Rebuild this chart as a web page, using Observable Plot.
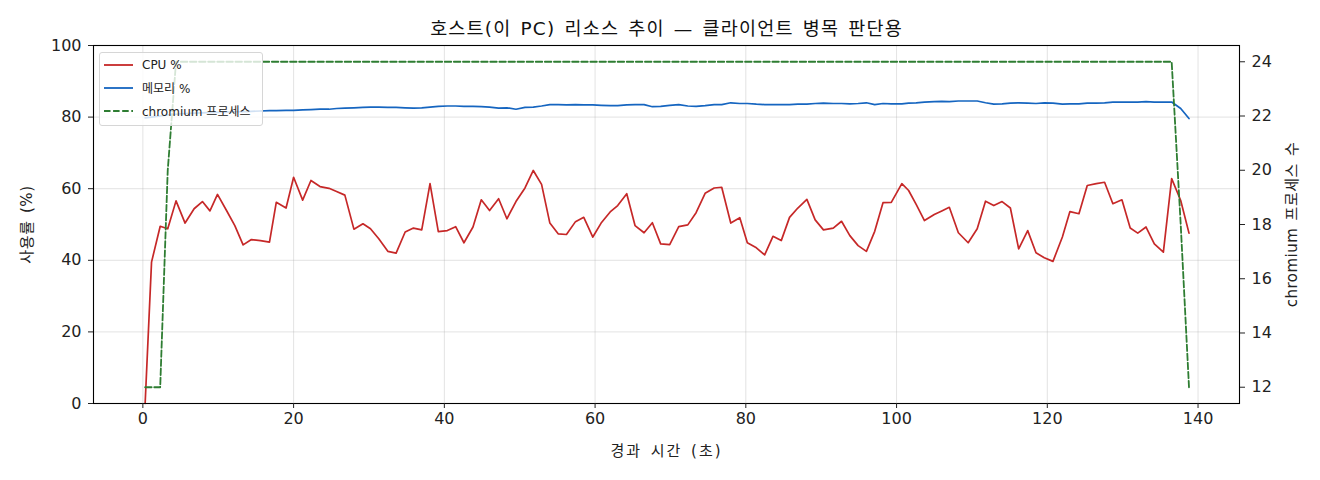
<!DOCTYPE html>
<html>
<head>
<meta charset="utf-8">
<script src="https://cdn.jsdelivr.net/npm/d3@7"></script>
<script src="https://cdn.jsdelivr.net/npm/@observablehq/plot@0.6"></script>
<style>
  html, body { margin: 0; padding: 0; background: #fff; }
  #wrap { position: relative; width: 1320px; height: 480px; font-family: "DejaVu Sans", "Noto Sans CJK KR", sans-serif; }
  #legend { position: absolute; left: 99px; top: 52px; width: 162px; height: 72px; padding: 0;
    border: 1px solid #d6d6d6; border-radius: 3px; background: rgba(255,255,255,0.8); font-size: 12px; color: #222; }
  .row { display: flex; align-items: center; height: 23.2px; }
  .row svg { margin-left: 4px; margin-right: 9px; }
</style>
</head>
<body>
<div id="wrap"></div>
<script>
const title = "호스트(이 PC) 리소스 추이 — 클라이언트 병목 판단용";
const xLabel = "경과 시간 (초)";
const yLabel = "사용률 (%)";
const y2Label = "chromium 프로세스 수";
const seriesNames = ["CPU %", "메모리 %", "chromium 프로세스"];
const seriesColors = ["#c62828", "#1565c0", "#2e7d32"];

const t = [0.3,1.15,2.3,3.3,4.4,5.6,6.8,7.9,8.9,9.9,11.1,12.2,13.3,14.4,15.6,16.8,17.7,19.0,20.0,21.2,22.3,23.5,24.7,25.7,26.8,28.0,29.2,30.2,31.3,32.5,33.6,34.8,35.9,37.0,38.1,39.2,40.4,41.5,42.6,43.8,44.9,46.0,47.2,48.3,49.5,50.7,51.8,52.9,54.0,55.1,56.2,57.4,58.5,59.7,60.8,62.0,63.0,64.2,65.3,66.5,67.6,68.7,69.9,71.1,72.3,73.4,74.6,75.8,76.8,78.0,79.2,80.2,81.4,82.5,83.6,84.7,85.8,86.9,88.1,89.2,90.3,91.6,92.7,93.8,94.9,96.0,97.1,98.2,99.3,100.7,101.6,102.6,103.7,105.0,106.0,107.0,108.2,109.5,110.7,111.8,112.9,114.0,115.1,116.2,117.4,118.5,119.6,120.75,122.0,123.0,124.2,125.3,126.5,127.6,128.7,129.9,131.0,132.0,133.1,134.2,135.4,136.5,137.7,138.8];

const cpu = [0,39.5,49.5,48.8,56.6,50.4,54.4,56.4,53.8,58.4,53.9,49.7,44.3,45.8,45.5,45.1,56.2,54.6,63.2,56.8,62.3,60.6,60.1,59.2,58.2,48.7,50.2,48.8,46.0,42.5,42.0,47.9,49.0,48.5,61.4,48.0,48.3,49.4,44.9,49.3,56.9,53.9,57.2,51.6,56.4,60.2,65.1,61.2,50.4,47.4,47.2,50.8,52.0,46.5,50.4,53.5,55.3,58.6,49.7,47.7,50.5,44.6,44.4,49.4,49.9,53.3,58.7,60.2,60.4,50.4,51.9,44.9,43.5,41.5,46.7,45.5,52.0,54.6,57.0,51.3,48.5,49.0,50.9,46.9,44.1,42.5,48.1,56.1,56.2,61.4,59.5,55.6,51.1,52.8,53.8,54.8,47.7,44.9,48.8,56.5,55.3,56.4,54.6,43.2,48.3,42.1,40.7,39.7,46.5,53.6,53.0,60.9,61.4,61.8,55.8,56.9,49.0,47.6,49.3,44.6,42.3,62.8,56.7,47.6];

const mem = [79.8,80.0,80.3,80.6,80.8,81.0,81.1,81.2,81.3,81.3,81.4,81.5,81.5,81.6,81.7,81.8,81.8,81.9,81.9,82.0,82.1,82.2,82.2,82.4,82.5,82.6,82.7,82.8,82.8,82.7,82.7,82.6,82.5,82.6,82.8,83.0,83.1,83.1,83.0,83.0,82.9,82.8,82.5,82.6,82.2,82.7,82.8,83.1,83.5,83.5,83.4,83.5,83.4,83.4,83.3,83.2,83.2,83.4,83.5,83.5,82.9,83.0,83.3,83.5,83.1,83.0,83.2,83.5,83.5,84.0,83.8,83.8,83.6,83.5,83.5,83.5,83.5,83.6,83.6,83.8,83.9,83.8,83.8,83.7,83.8,84.0,83.5,83.8,83.7,83.7,83.9,84.0,84.2,84.3,84.4,84.3,84.5,84.5,84.5,84.0,83.6,83.7,83.9,84.0,83.9,83.8,84.0,83.9,83.6,83.7,83.7,83.9,83.9,84.0,84.2,84.2,84.2,84.2,84.3,84.2,84.2,84.2,82.4,79.6];

const proc = [12,12,12,20,24,24,24,24,24,24,24,24,24,24,24,24,24,24,24,24,24,24,24,24,24,24,24,24,24,24,24,24,24,24,24,24,24,24,24,24,24,24,24,24,24,24,24,24,24,24,24,24,24,24,24,24,24,24,24,24,24,24,24,24,24,24,24,24,24,24,24,24,24,24,24,24,24,24,24,24,24,24,24,24,24,24,24,24,24,24,24,24,24,24,24,24,24,24,24,24,24,24,24,24,24,24,24,24,24,24,24,24,24,24,24,24,24,24,24,24,24,24,18,12];

const xTicks = [0,20,40,60,80,100,120,140];
const yTicks = [0,20,40,60,80,100];
const y2Ticks = [12,14,16,18,20,22,24];

// secondary axis mapping (process count domain -> primary 0..100 space)
const y2Domain = [11.4, 24.6];
const toY = v => (v - y2Domain[0]) / (y2Domain[1] - y2Domain[0]) * 100;
const fromY = v => v / 100 * (y2Domain[1] - y2Domain[0]) + y2Domain[0];

const rows = t.map((d, i) => ({t: d, cpu: cpu[i], mem: mem[i], proc: toY(proc[i])}));

const font = '"DejaVu Sans", "Noto Sans CJK KR", sans-serif';

const chart = Plot.plot({
  width: 1320,
  height: 480,
  marginLeft: 93,
  marginRight: 81,
  marginTop: 45,
  marginBottom: 77,
  style: {fontFamily: font, fontSize: "15px", color: "#222", background: "#fff"},
  x: {domain: [-6.55, 145.5]},
  y: {domain: [0, 100]},
  marks: [
    Plot.gridX(xTicks, {stroke: "#b0b0b0", strokeOpacity: 0.35}),
    Plot.gridY(yTicks, {stroke: "#b0b0b0", strokeOpacity: 0.35}),
    Plot.line(rows, {x: "t", y: "cpu", stroke: seriesColors[0], strokeWidth: 1.7}),
    Plot.line(rows, {x: "t", y: "mem", stroke: seriesColors[1], strokeWidth: 1.7}),
    Plot.line(rows, {x: "t", y: "proc", stroke: seriesColors[2], strokeWidth: 1.8, strokeDasharray: "6.5,2.6"}),
    Plot.frame({stroke: "#000", strokeWidth: 1.1}),
    Plot.axisX({ticks: xTicks, tickSize: 5, tickPadding: 4, label: null, fontSize: 16}),
    Plot.axisY({ticks: yTicks, tickSize: 5, tickPadding: 7, label: null, fontSize: 16}),
    Plot.axisY({anchor: "right", ticks: y2Ticks.map(toY), tickFormat: d => String(Math.round(fromY(d))), tickSize: 5, tickPadding: 7, label: null, fontSize: 16}),
    Plot.text([title], {frameAnchor: "top", lineAnchor: "middle", dy: -16, text: d => d, fontSize: 18.5, fill: "#111"}),
    Plot.text([xLabel], {frameAnchor: "bottom", lineAnchor: "middle", dy: 48, text: d => d, fontSize: 15}),
    Plot.text([yLabel], {frameAnchor: "left", textAnchor: "middle", lineAnchor: "middle", dx: -66, rotate: -90, text: d => d, fontSize: 15}),
    Plot.text([y2Label], {frameAnchor: "right", textAnchor: "middle", lineAnchor: "middle", dx: 53, rotate: -90, text: d => d, fontSize: 15})
  ]
});

// spacing tweaks to mimic the reference font metrics
const spacing = new Map([[title, ["1.2px", "2px"]], [xLabel, ["2px", "2px"]], [yLabel, ["0.6px", "2px"]], [y2Label, ["0.5px", "2px"]]]);
d3.select(chart).selectAll("text").each(function () {
  const s = spacing.get(this.textContent);
  if (s) d3.select(this).style("letter-spacing", s[0]).style("word-spacing", s[1]);
});

const wrap = document.getElementById("wrap");
wrap.appendChild(chart);

const legend = document.createElement("div");
legend.id = "legend";
seriesNames.forEach((name, i) => {
  const row = document.createElement("div");
  row.className = "row";
  const dash = i === 2 ? ' stroke-dasharray="6.5,2.6"' : '';
  row.innerHTML = `<svg width="29" height="6"><line x1="0" y1="3" x2="29" y2="3" stroke="${seriesColors[i]}" stroke-width="1.8"${dash}/></svg><span>${name}</span>`;
  legend.appendChild(row);
});
wrap.appendChild(legend);
</script>
</body>
</html>
